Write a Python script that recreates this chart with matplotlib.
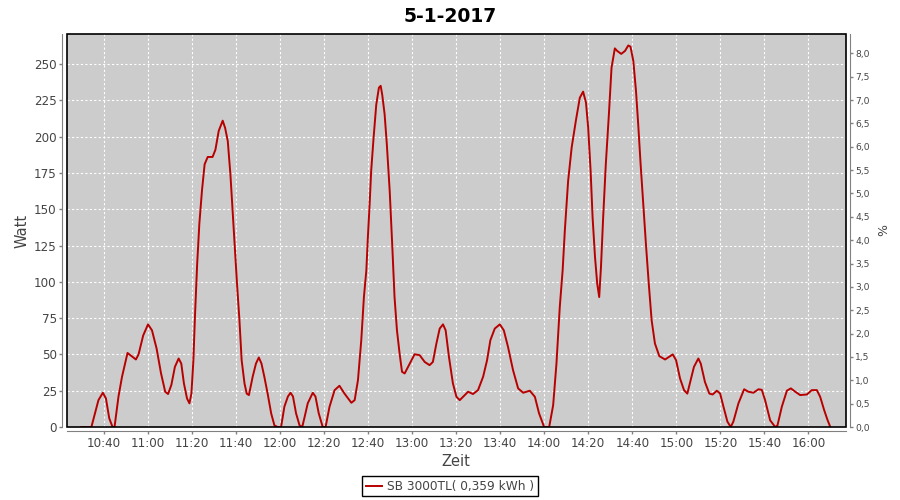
import matplotlib
matplotlib.use("Agg")
import matplotlib.pyplot as plt
import matplotlib.dates as mdates
from matplotlib.patches import Rectangle
from matplotlib.ticker import FuncFormatter, MultipleLocator
import pandas as pd

# Minutes after 10:00 and power in Watt
minutes = [29.7, 34.5, 37.7, 39.7, 41.1, 42.6, 44.1, 45.0, 46.8, 48.4, 50.9, 54.7,
           55.9, 58.0, 60.2, 62.0, 64.1, 66.1, 68.0, 69.3, 70.8, 72.4, 74.1, 75.3,
           76.5, 77.9, 79.0, 79.9, 80.8, 81.5, 82.5, 83.5, 84.7, 85.9, 87.3, 89.5,
           90.8, 92.3, 94.1, 95.2, 96.4, 97.6, 98.6, 99.5, 100.6, 101.7, 102.7, 104.0,
           105.0, 106.0, 107.7, 109.2, 110.5, 111.7, 113.0, 114.5, 116.1, 117.6, 119.1, 120.6,
           122.1, 123.7, 124.9, 126.0, 127.4, 129.0, 130.2, 131.3, 132.7, 135.0, 136.2, 137.7,
           139.5, 140.8, 142.6, 144.9, 147.1, 149.4, 152.5, 154.0, 155.5, 157.0, 158.2, 159.3,
           160.0, 160.8, 161.5, 162.6, 163.8, 165.0, 165.8, 166.5, 167.6, 168.6, 169.9, 171.1,
           172.1, 173.2, 174.4, 175.5, 176.7, 179.0, 181.2, 183.5, 185.8, 188.0, 189.5, 191.1,
           192.6, 194.1, 195.3, 196.8, 198.6, 200.2, 201.7, 203.2, 205.5, 207.7, 210.0, 212.3,
           214.1, 215.6, 217.6, 219.9, 221.7, 223.6, 225.9, 228.2, 230.5, 233.5, 235.8, 237.7,
           240.0, 242.3, 244.1, 245.6, 247.1, 248.4, 249.4, 250.9, 252.5, 254.4, 256.2, 257.7,
           259.0, 260.0, 261.1, 262.0, 263.1, 264.1, 265.0, 265.8, 266.8, 268.0, 269.4, 270.6,
           272.1, 273.2, 275.0, 276.7, 278.2, 279.2, 280.5, 281.7, 282.7, 283.8, 285.0, 286.2,
           287.5, 288.8, 290.3, 292.3, 294.9, 298.4, 299.9, 301.7, 303.5, 305.0, 306.5, 308.0,
           310.0, 311.1, 313.0, 315.0, 316.5, 318.4, 319.9, 321.4, 323.2, 324.7, 325.9, 328.2,
           330.8, 332.7, 335.0, 337.3, 338.8, 340.3, 342.6, 344.9, 345.9, 347.9, 350.2, 352.0,
           354.0, 356.2, 359.3, 361.5, 363.8, 365.3, 367.1, 368.6, 369.9]
watt = [0, 0, 18.5, 23.6, 19.7, 6, 0, 0, 21, 34.6, 51, 46.5,
        50, 63, 70.7, 66.6, 54, 37, 24.3, 22.7, 29, 41.4, 47.2, 43.7,
        30, 19.7, 16.3, 23, 46, 75.8, 112, 140, 163, 181, 186, 186,
        191, 204, 211, 206, 197, 174, 149, 126, 98.7, 73.5, 46, 30,
        23, 22, 34.6, 43.7, 47.9, 43.7, 34.6, 23, 9.4, 1, 0, 0,
        14, 21, 23.6, 21, 9.4, 1, 0, 7, 16.3, 23.6, 21, 9.4,
        0, 0, 14, 25.4, 28.4, 23, 16.7, 18.5, 32.3, 59.8, 89.5, 107.8,
        130.7, 153.6, 176.5, 199.4, 222, 233.7, 235, 229, 215.4, 194.8, 162.8, 123.8,
        89.5, 66.6, 50.6, 38, 36.9, 43.7, 50.1, 49.5, 44.8, 42.6, 44.8, 57.5,
        67.8, 70.7, 66.6, 48.3, 30, 20.8, 18.5, 20.8, 24.3, 22.7, 25.4, 34.6,
        46, 59.8, 67.8, 70.7, 66.6, 55.2, 39.1, 26.6, 23.6, 25, 20.8, 9.4,
        0, 0, 15, 43.7, 82.6, 107.8, 135.3, 169.6, 192.5, 210.9, 226.8, 231,
        223.4, 206.2, 176.5, 144.4, 117, 98.7, 89.5, 110, 144.4, 181, 215.4, 247.5,
        260.8, 259, 257, 259, 262.8, 262, 252, 231.5, 208.6, 181, 153.6, 126.2,
        98.7, 73.5, 57.5, 48.8, 46.5, 50, 46, 33.4, 25.4, 23, 32.3, 41.4,
        47.2, 43.7, 31, 23, 22.4, 25, 23, 14, 3.7, 0, 3.7, 16.3,
        26, 24.3, 23.6, 26, 25.6, 18.5, 4.6, 0, 1, 14, 25, 26.6,
        24.3, 22, 22.4, 25.4, 25.4, 20.8, 11.7, 5, 0]

day = pd.Timestamp("2017-01-05 10:00")
x_start, x_end = 23.2, 376.8  # minutes after 10:00
watt_max, pct_max = 270.7, 8.415
series_name = "SB 3000TL( 0,359 kWh )"

times = [day + pd.Timedelta(minutes=m) for m in minutes]

fig = plt.figure(figsize=(9, 5), dpi=100)
ax = fig.add_axes([66.5 / 900, 73 / 500, 779 / 900, 393 / 500])
ax.set_facecolor("#cccccc")

line, = ax.plot(times, watt, color="#b80000", lw=1.4, label=series_name)

ax.set_xlim(day + pd.Timedelta(minutes=x_start), day + pd.Timedelta(minutes=x_end))
ax.set_ylim(0, watt_max)
ax.xaxis.set_major_locator(mdates.MinuteLocator(byminute=[0, 20, 40]))
ax.xaxis.set_major_formatter(mdates.DateFormatter("%H:%M"))
ax.yaxis.set_major_locator(MultipleLocator(25))

ax.grid(True, color="white", ls=(0, (2, 2)), lw=0.8)
ax.set_axisbelow(True)

grey = "#808080"
txt = "#444444"
for side in ["top", "right"]:
    ax.spines[side].set_visible(False)
for side in ["left", "bottom"]:
    ax.spines[side].set_position(("outward", 3))
    ax.spines[side].set_color(grey)
ax.tick_params(colors=grey, labelcolor=txt, length=2, width=1, labelsize=8.6, pad=2)

ax.set_xlabel("Zeit", fontsize=10.5, color=txt, labelpad=3)
ax.set_ylabel("Watt", fontsize=10.5, color=txt, labelpad=3)

# secondary percent axis
ax2 = ax.twinx()
ax2.set_ylim(0, pct_max)
ax2.yaxis.set_major_locator(MultipleLocator(0.5))
ax2.yaxis.set_major_formatter(FuncFormatter(lambda v, p: f"{v:.1f}".replace(".", ",")))
for side in ["top", "left", "bottom"]:
    ax2.spines[side].set_visible(False)
ax2.spines["right"].set_position(("outward", 3))
ax2.spines["right"].set_color(grey)
ax2.tick_params(colors=grey, labelcolor=txt, length=2, width=1, labelsize=6.6, pad=2)
ax2.set_ylabel("%", fontsize=9, color=txt, labelpad=5)

# black frame round the plot area
ax2.add_patch(Rectangle((0, 0), 1, 1, transform=ax.transAxes, fill=False,
                        edgecolor="black", lw=1.2, clip_on=False, zorder=10))

fig.suptitle("5-1-2017", x=0.5, y=0.985, fontsize=13.5, fontweight="bold")

leg = fig.legend(handles=[line], loc="lower center", bbox_to_anchor=(0.5, 0.0),
                 fontsize=8.7, frameon=True, fancybox=False, edgecolor="black",
                 framealpha=1, handlelength=1.4, handletextpad=0.4,
                 borderpad=0.3, borderaxespad=0.3)
leg.get_frame().set_linewidth(1.0)
for t in leg.get_texts():
    t.set_color(txt)

fig.savefig("out.png", dpi=100)
